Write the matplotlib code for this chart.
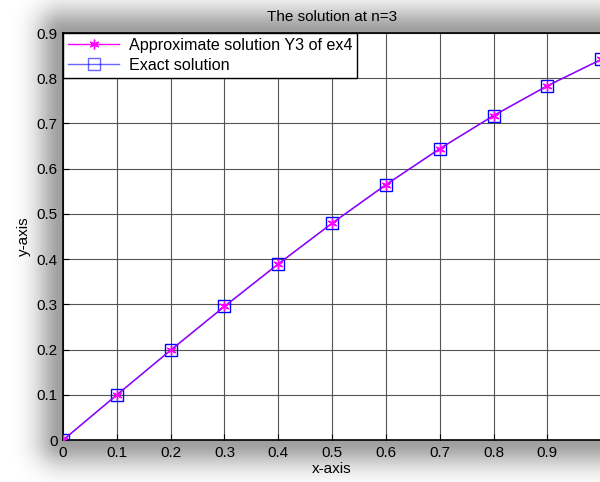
import numpy as np
import matplotlib
matplotlib.use("Agg")
import matplotlib.pyplot as plt

plt.rcParams['font.family'] = ['Liberation Sans', 'DejaVu Sans']

x_vals = [0, 0.1, 0.2, 0.3, 0.4, 0.5, 0.6, 0.7, 0.8, 0.9, 1.0]
y_approx = [0, 0.0998, 0.1987, 0.2955, 0.3894, 0.4794, 0.5646, 0.6442, 0.7174, 0.7833, 0.8415]
y_exact = [0, 0.0998, 0.1987, 0.2955, 0.3894, 0.4794, 0.5646, 0.6442, 0.7174, 0.7833, 0.8415]
x_ticks = [0, 0.1, 0.2, 0.3, 0.4, 0.5, 0.6, 0.7, 0.8, 0.9]
y_ticks = [0, 0.1, 0.2, 0.3, 0.4, 0.5, 0.6, 0.7, 0.8, 0.9]

fig = plt.figure(figsize=(6, 4.82), dpi=100)

# soft drop shadow around the axes box
left, bottom, width, height = 0.105, 0.087, 0.897, 0.8445
bg = fig.add_axes([0, 0, 1, 1], zorder=-1)
W, H = 600, 482
gx, gy = np.meshgrid(np.arange(W) + 0.5, np.arange(H) + 0.5)
x0, x1 = left * W, (left + width) * W
y0, y1 = (1 - bottom - height) * H, (1 - bottom) * H
dx = np.maximum(np.maximum(x0 - gx, gx - x1), 0)
dy = np.maximum(np.maximum(y0 - gy, gy - y1), 0)
d = np.hypot(dx, dy)
shade = 1 - 0.38 * np.exp(-(d / 26.0) ** 2)
bg.imshow(shade, cmap='gray', vmin=0, vmax=1, extent=[0, W, H, 0], aspect='auto')
bg.set_axis_off()

ax = fig.add_axes([left, bottom, width, height])
ax.plot(x_vals, y_exact, color='blue', linewidth=1, marker='s', markersize=8.5,
        markerfacecolor='none', markeredgecolor='blue', markeredgewidth=1,
        label='Exact solution', zorder=3)
ax.plot(x_vals, y_approx, color='magenta', linewidth=1, alpha=0.6, zorder=4)
ax.plot(x_vals, y_approx, color='magenta', linewidth=0, marker=(6, 2, 0), markersize=7,
        markeredgewidth=1, zorder=5)
# legend handles
h1, = ax.plot([], [], color='magenta', linewidth=1, marker=(6, 2, 0), markersize=7,
              label='Approximate solution Y3 of ex4')
h2, = ax.plot([], [], color='blue', linewidth=1, alpha=0.6, marker='s', markersize=8.5,
              markerfacecolor='none', markeredgecolor='blue', label='Exact solution')

ax.set_xlim(0, 1)
ax.set_ylim(0, 0.9)
ax.set_xticks(x_ticks)
ax.set_yticks(y_ticks)
ax.set_xticklabels(['0', '0.1', '0.2', '0.3', '0.4', '0.5', '0.6', '0.7', '0.8', '0.9'])
ax.set_yticklabels(['0', '0.1', '0.2', '0.3', '0.4', '0.5', '0.6', '0.7', '0.8', '0.9'])
ax.tick_params(direction='in', length=4, labelsize=11, pad=4)
ax.grid(True, color='#555555', linewidth=0.8)
for s in ax.spines.values():
    s.set_linewidth(1.2)

ax.set_title('The solution at n=3', fontsize=11, pad=9)
ax.set_xlabel('x-axis', fontsize=11, labelpad=2)
ax.set_ylabel('y-axis', fontsize=11, labelpad=4)

leg = ax.legend(handles=[h1, h2], loc='upper left', fontsize=11.6, fancybox=False,
                framealpha=1, edgecolor='black', borderaxespad=0, handlelength=3.2,
                borderpad=0.3, labelspacing=0.3, handletextpad=0.6)
leg.get_frame().set_linewidth(1)

fig.savefig('out.png', dpi=100)
